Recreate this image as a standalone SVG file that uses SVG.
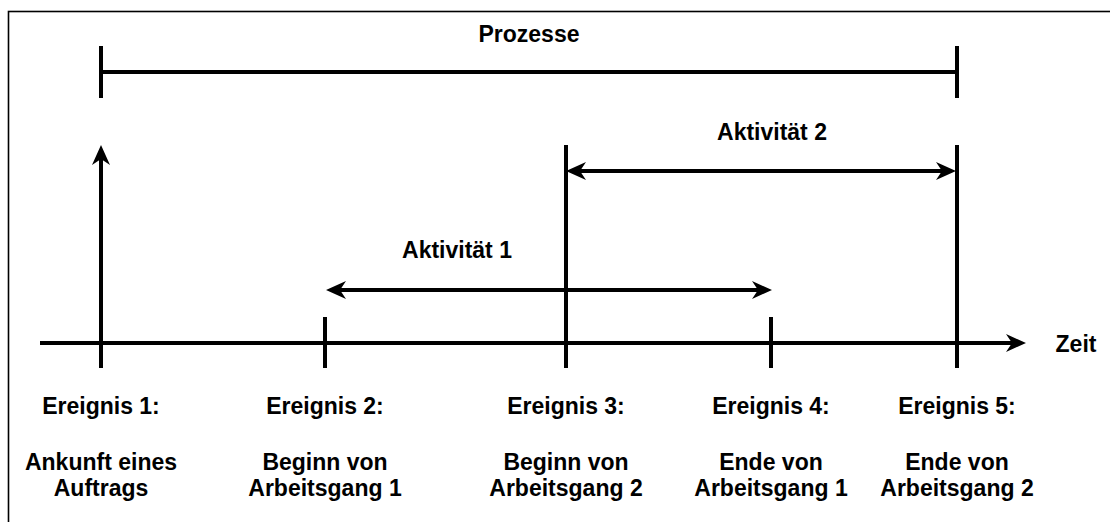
<svg xmlns="http://www.w3.org/2000/svg" width="1110" height="522" viewBox="0 0 1110 522">
  <style>
    .ln { stroke: #000; stroke-width: 4; fill: none; }
    .lbl { font-family: "Liberation Sans", Arial, sans-serif; font-weight: bold; font-size: 23px; fill: #000; text-anchor: middle; }
  </style>
  <defs>
    <marker id="arrow" markerUnits="userSpaceOnUse" markerWidth="22" markerHeight="22" viewBox="0 -11 22 22" refX="10" refY="0" orient="auto-start-reverse">
      <path d="M0,-9 L20,0 L0,9 L6,0 Z" fill="#000"/>
    </marker>
  </defs>

  <!-- outer frame -->
  <rect x="8.5" y="11.5" width="1120" height="530" fill="#fff" stroke="#000" stroke-width="1.6"/>

  <g id="connectors">
    <!-- process bracket -->
    <line class="ln" x1="101" y1="72" x2="957" y2="72"/>
    <line class="ln" x1="101" y1="46" x2="101" y2="98"/>
    <line class="ln" x1="957" y1="46" x2="957" y2="98"/>
    <!-- time axis -->
    <line class="ln" x1="40" y1="343" x2="1016" y2="343" marker-end="url(#arrow)"/>
    <!-- event markers -->
    <line class="ln" x1="101" y1="368" x2="101" y2="155" marker-end="url(#arrow)"/>
    <line class="ln" x1="325" y1="317" x2="325" y2="368"/>
    <line class="ln" x1="566" y1="145" x2="566" y2="368"/>
    <line class="ln" x1="771" y1="317" x2="771" y2="368"/>
    <line class="ln" x1="957" y1="145" x2="957" y2="368"/>
    <!-- activity spans -->
    <line class="ln" x1="336" y1="290" x2="762" y2="290" marker-start="url(#arrow)" marker-end="url(#arrow)"/>
    <line class="ln" x1="576" y1="171" x2="946" y2="171" marker-start="url(#arrow)" marker-end="url(#arrow)"/>
  </g>

  <g id="prozesse"><text class="lbl" x="529" y="42">Prozesse</text></g>
  <g id="aktivitaet1"><text class="lbl" x="457" y="258">Aktivität 1</text></g>
  <g id="aktivitaet2"><text class="lbl" x="772" y="140">Aktivität 2</text></g>
  <g id="zeit"><text class="lbl" x="1076" y="352">Zeit</text></g>

  <g id="ereignis1">
    <text class="lbl" x="101" y="414">Ereignis 1:</text>
    <text class="lbl" x="101" y="470">Ankunft eines</text>
    <text class="lbl" x="101" y="496">Auftrags</text>
  </g>
  <g id="ereignis2">
    <text class="lbl" x="325" y="414">Ereignis 2:</text>
    <text class="lbl" x="325" y="470">Beginn von</text>
    <text class="lbl" x="325" y="496">Arbeitsgang 1</text>
  </g>
  <g id="ereignis3">
    <text class="lbl" x="566" y="414">Ereignis 3:</text>
    <text class="lbl" x="566" y="470">Beginn von</text>
    <text class="lbl" x="566" y="496">Arbeitsgang 2</text>
  </g>
  <g id="ereignis4">
    <text class="lbl" x="771" y="414">Ereignis 4:</text>
    <text class="lbl" x="771" y="470">Ende von</text>
    <text class="lbl" x="771" y="496">Arbeitsgang 1</text>
  </g>
  <g id="ereignis5">
    <text class="lbl" x="957" y="414">Ereignis 5:</text>
    <text class="lbl" x="957" y="470">Ende von</text>
    <text class="lbl" x="957" y="496">Arbeitsgang 2</text>
  </g>
</svg>
